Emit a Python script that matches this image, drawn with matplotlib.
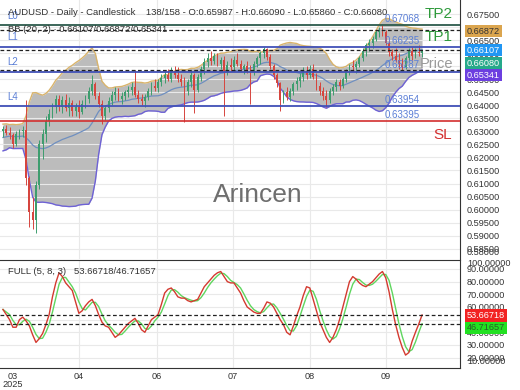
import numpy as np
import pandas as pd
import matplotlib
matplotlib.use("Agg")
import matplotlib.pyplot as plt

plt.rcParams['font.family'] = ['Liberation Sans', 'DejaVu Sans']

# daily AUDUSD bars (one value per candle)
opens = [
    .6300, .6310, .6295, .6285, .6250, .6290, .6300, .6305, .6120, .5990,
    .5960, .6095, .6250, .6290, .6340, .6365, .6395, .6425, .6395, .6420,
    .6390, .6410, .6380, .6395, .6375, .6405, .6425, .6455, .6480, .6435,
    .6405, .6360, .6390, .6415, .6440, .6450, .6425, .6435, .6450, .6460,
    .6470, .6440, .6425, .6415, .6430, .6455, .6475, .6465, .6490, .6505,
    .6515, .6500, .6530, .6515, .6500, .6490, .6455, .6490, .6515, .6460,
    .6510, .6540, .6565, .6580, .6570, .6590, .6560, .6575, .6530, .6555,
    .6545, .6575, .6560, .6540, .6550, .6535, .6530, .6560, .6580, .6600,
    .6615, .6585, .6550, .6515, .6485, .6420, .6450, .6430, .6455, .6480,
    .6495, .6510, .6530, .6515, .6540, .6510, .6475, .6455, .6435, .6420,
    .6455, .6470, .6490, .6475, .6500, .6530, .6550, .6545, .6560, .6580,
    .6610, .6630, .6640, .6655, .6680, .6690, .6680, .6640, .6605, .6590,
    .6575, .6560, .6545, .6580, .6610, .6590, .6605, .65987]
highs = [
    .6320, .6325, .6315, .6295, .6300, .6310, .6320, .6420, .6130, .6050,
    .6110, .6265, .6310, .6360, .6385, .6410, .6440, .6440, .6435, .6445,
    .6430, .6420, .6410, .6420, .6420, .6440, .6470, .6515, .6490, .6450,
    .6420, .6400, .6430, .6455, .6470, .6465, .6450, .6460, .6475, .6490,
    .6535, .6460, .6445, .6445, .6465, .6490, .6500, .6500, .6520, .6530,
    .6540, .6545, .6550, .6545, .6520, .6510, .6500, .6530, .6525, .6520,
    .6550, .6580, .6600, .6610, .6600, .6600, .6585, .6590, .6570, .6580,
    .6590, .6600, .6575, .6560, .6570, .6555, .6570, .6590, .6610, .6625,
    .6620, .6595, .6560, .6525, .6490, .6460, .6470, .6465, .6490, .6510,
    .6525, .6545, .6550, .6555, .6560, .6525, .6490, .6470, .6460, .6465,
    .6480, .6500, .6500, .6510, .6540, .6560, .6575, .6570, .6590, .6620,
    .6640, .6655, .6665, .6690, .6700, .67068, .6690, .6650, .6615, .6620,
    .6600, .6580, .6590, .6620, .6625, .6620, .6630, .66090]
lows = [
    .6280, .6285, .6270, .6235, .6245, .6270, .6280, .6095, .5935, .5925,
    .5910, .6080, .6195, .6260, .6320, .6350, .6370, .6380, .6370, .6380,
    .6360, .6360, .6360, .6350, .6365, .6390, .6410, .6440, .6425, .6395,
    .6330, .6345, .6375, .6400, .6420, .6415, .6405, .6420, .6430, .6440,
    .6430, .6410, .6400, .6395, .6420, .6440, .6455, .6450, .6475, .6485,
    .6495, .6490, .6505, .6490, .6475, .6335, .6440, .6470, .6370, .6450,
    .6495, .6520, .6545, .6555, .6560, .6550, .6540, .6360, .6515, .6530,
    .6535, .6550, .6530, .6520, .6525, .6405, .6515, .6545, .6560, .6580,
    .6575, .6540, .6500, .6470, .6380, .6410, .6420, .6415, .6440, .6460,
    .6470, .6495, .6500, .6505, .6500, .6460, .6440, .6420, .6395, .6410,
    .6440, .6455, .6460, .6465, .6490, .6515, .6530, .6525, .6545, .6570,
    .6590, .6610, .6620, .6645, .6660, .6665, .6630, .6590, .6575, .6565,
    .6540, .6535, .6540, .6570, .6575, .6580, .6590, .65860]
closes = [
    .6310, .6295, .6285, .6250, .6290, .6300, .6305, .6120, .5990, .5960,
    .6095, .6250, .6290, .6340, .6365, .6395, .6425, .6395, .6420, .6390,
    .6410, .6380, .6395, .6375, .6405, .6425, .6455, .6480, .6435, .6405,
    .6360, .6390, .6415, .6440, .6450, .6425, .6435, .6450, .6460, .6470,
    .6440, .6425, .6415, .6430, .6455, .6475, .6465, .6490, .6505, .6515,
    .6500, .6530, .6515, .6500, .6490, .6455, .6490, .6515, .6460, .6510,
    .6540, .6565, .6580, .6570, .6590, .6560, .6575, .6530, .6555, .6545,
    .6575, .6560, .6540, .6550, .6535, .6530, .6560, .6580, .6600, .6615,
    .6585, .6550, .6515, .6485, .6420, .6450, .6430, .6455, .6480, .6495,
    .6510, .6530, .6515, .6540, .6510, .6475, .6455, .6435, .6420, .6455,
    .6470, .6490, .6475, .6500, .6530, .6550, .6545, .6560, .6580, .6610,
    .6630, .6640, .6655, .6680, .6690, .6680, .6640, .6605, .6590, .6575,
    .6560, .6545, .6580, .6610, .6590, .6605, .6599, .66080]
# closes before the first visible candle, estimated from the band width at the left edge
warmup_closes = [.6245, .6230, .6275, .6300, .6290, .6275, .6250, .6240, .6265, .6280,
                 .6310, .6325, .6290, .6260, .6245, .6265, .6280, .6295, .6300]

# full stochastic %K (red line)
stoch_k = [
    58, 54, 50, 44, 44, 50, 52, 49, 45, 38, 32, 35, 39, 46, 54, 68, 79, 87, 84, 79,
    76, 73, 64, 55, 57, 61, 64, 66, 61, 54, 48, 45, 44, 40, 36, 38, 41, 44, 47, 49,
    51, 47, 42, 40, 45, 50, 52, 54, 62, 71, 74, 75, 72, 68, 67, 67, 65, 64, 65, 66,
    71, 76, 79, 82, 85, 87, 88, 84, 80, 79, 79, 75, 71, 65, 60, 58, 56, 55, 55, 59,
    64, 63, 60, 55, 50, 46, 40, 38, 45, 53, 60, 69, 76, 75, 66, 57, 48, 42, 36, 32,
    36, 42, 50, 60, 70, 80, 84, 82, 79, 77, 76, 78, 80, 83, 86, 88, 83, 72, 58, 46,
    36, 28, 22, 24, 33, 40, 46.5, 53.67]

levels = [0.67068, 0.66235, 0.65287, 0.63954]
level_names = ['L0', 'L1', 'L2', 'L4']
stop_loss = 0.63395
bb_now = [0.66107, 0.66872, 0.65341]        # middle / upper / lower
last_close = 0.66080
stoch_now = [53.66718, 46.71657]

month_pos = [3.0, 23.0, 46.6, 69.7, 93.0, 116.1]
month_labels = ['03\n2025', '04', '06', '07', '08', '09']

# Bollinger (20, 2)
cl = pd.Series(warmup_closes + closes)
mid = cl.rolling(20).mean().to_numpy()[len(warmup_closes):]
sd = cl.rolling(20).std(ddof=0).to_numpy()[len(warmup_closes):]
upper = mid + 2 * sd
lower = mid - 2 * sd

stoch_d = pd.Series(stoch_k).rolling(3, min_periods=1).mean()

n = len(closes)
x = np.arange(n)
o = np.array(opens); h = np.array(highs); l = np.array(lows); c = np.array(closes)
up = c >= o

fig = plt.figure(figsize=(5.2, 3.9), dpi=100)
ax = fig.add_axes([0, 1 - 259 / 390, 460 / 520, 259 / 390])
ax2 = fig.add_axes([0, 1 - 368 / 390, 460 / 520, 108 / 390])

# ---- price panel
ax.set_xlim(-0.9, 138.5)
ax.set_ylim(0.58106, 0.68037)
yt = np.arange(0.585, 0.6751, 0.005)
ax.set_yticks(yt)
ax.set_yticklabels([f"{v:.5f}" for v in yt])
ax.yaxis.tick_right()
ax.tick_params(axis='y', length=0, pad=5, labelsize=6.6, colors='#333333')
ax.set_xticks([])
ax.grid(axis='y', color='#e9e9e9', lw=0.8)
for p in month_pos[1:]:
    ax.axvline(p, color='#e9e9e9', lw=0.8, zorder=0)
for s in ['top', 'left', 'bottom']:
    ax.spines[s].set_visible(False)
ax.spines['right'].set_color('#333333')
ax.text(1.015, 0.58374, '0.58000', transform=ax.get_yaxis_transform(),
        fontsize=6.6, color='#333333', va='center')

ax.fill_between(x, lower, upper, color='#bcbcbc', lw=0, zorder=1)
ax.plot(x, upper, color='#d9b46c', lw=1, zorder=2)
ax.plot(x, lower, color='#6e62d6', lw=1, zorder=2)
ax.plot(x, mid, color='#6f8fc0', lw=0.9, zorder=2)

cols = np.where(up, '#3e9d6e', '#d6453e')
ax.vlines(x, l, h, color=cols, lw=0.7, zorder=3)
ax.bar(x, np.maximum(np.abs(c - o), 0.0002), bottom=np.minimum(o, c), width=0.55,
       color=cols, lw=0, zorder=3)

lvl_colors = ['#2c5a4c', '#4151b8', '#4151b8', '#4151b8']
for v, name, col in zip(levels, level_names, lvl_colors):
    ax.axhline(v, color=col, lw=1.3, zorder=4)
    ax.annotate(name, xy=(0, v), xycoords=('axes fraction', 'data'), xytext=(5, 7),
                textcoords='offset points', va='center', fontsize=7, color='#5b7fd6')
    ax.annotate(f"{v:.5f}", xy=(385 / 460, v), xycoords=('axes fraction', 'data'),
                xytext=(0, 4.5), textcoords='offset points', va='center',
                fontsize=7, color='#5b7fd6', zorder=6)
ax.axhline(stop_loss, color='#d32f2f', lw=1.2, zorder=4)
ax.annotate(f"{stop_loss:.5f}", xy=(385 / 460, stop_loss), xycoords=('axes fraction', 'data'),
            xytext=(0, 4.5), textcoords='offset points', va='center',
            fontsize=7, color='#5b7fd6')
for v in bb_now:
    ax.axhline(v, color='#222222', lw=0.9, ls=(0, (3, 2)), zorder=5)

ax.text(0.954, 0.946, 'TP2', transform=ax.transAxes, fontsize=11, color='#2e9a3b',
        ha='center', va='center')
ax.text(0.954, 0.857, 'TP1', transform=ax.transAxes, fontsize=11, color='#2e9a3b',
        ha='center', va='center')
ax.text(0.948, 0.753, 'Price', transform=ax.transAxes, fontsize=10.5, color='#9a9a9a',
        ha='center', va='center')
ax.text(0.963, 0.479, 'SL', transform=ax.transAxes, fontsize=11, color='#d32f2f',
        ha='center', va='center')
ax.text(0.561, 0.247, 'Arincen', transform=ax.transAxes, fontsize=19, color='#6e6e6e',
        ha='center', va='center')

# price boxes on the right scale
boxes = [(f"{bb_now[1]:.5f}", 0.66846, '#dba54e', '#333333'),
         (f"{bb_now[0]:.5f}", 0.66115, '#2196f3', 'white'),
         (f"{last_close:.5f}", 0.65615, '#26a98a', 'white'),
         (f"{bb_now[2]:.5f}", 0.65154, '#6c3fe0', 'white')]
for txt, yv, fc, tc in boxes:
    ax.text(1.015, yv, txt, transform=ax.get_yaxis_transform(), fontsize=6.6, color=tc,
            va='center', ha='left', zorder=10,
            bbox=dict(boxstyle='square,pad=0.18', fc=fc, ec='none'))

# ---- stochastic panel
ax2.set_xlim(-0.9, 138.5)
ax2.set_ylim(11.8, 97.1)
st = np.arange(20, 91, 10)
ax2.set_yticks(st)
ax2.set_yticklabels([f"{v:.5f}" for v in st])
ax2.yaxis.tick_right()
ax2.tick_params(axis='y', length=0, pad=5, labelsize=6.6, colors='#333333')
ax2.set_xticks(month_pos)
ax2.set_xticklabels(month_labels, linespacing=0.85)
ax2.tick_params(axis='x', length=0, pad=3, labelsize=6.6, colors='#333333')
ax2.grid(axis='y', color='#e9e9e9', lw=0.8)
for p in month_pos[1:]:
    ax2.axvline(p, color='#e9e9e9', lw=0.8, zorder=0)
ax2.spines['left'].set_visible(False)
for s in ['top', 'right', 'bottom']:
    ax2.spines[s].set_color('#333333')
ax2.text(1.015, 94.0, '100.00000', transform=ax2.get_yaxis_transform(),
         fontsize=6.6, color='#333333', va='center')
ax2.text(1.015, 17.0, '10.00000', transform=ax2.get_yaxis_transform(),
         fontsize=6.6, color='#333333', va='center')

ax2.plot(x, stoch_d, color='#5fd65f', lw=1)
ax2.plot(x, stoch_k, color='#d43a30', lw=1)
for v in stoch_now:
    ax2.axhline(v, color='#222222', lw=0.9, ls=(0, (3, 2)))
ax2.text(1.015, 53.2, f"{stoch_now[0]:.5f}", transform=ax2.get_yaxis_transform(),
         fontsize=6.6, color='white', va='center', zorder=10,
         bbox=dict(boxstyle='square,pad=0.18', fc='#f22222', ec='none'))
ax2.text(1.015, 43.4, f"{stoch_now[1]:.5f}", transform=ax2.get_yaxis_transform(),
         fontsize=6.6, color='#2b5b2b', va='center', zorder=10,
         bbox=dict(boxstyle='square,pad=0.18', fc='#22e022', ec='none'))

# headers
fig.text(8 / 520, 1 - 12.7 / 390,
         "AUDUSD - Daily - Candlestick    138/158 - O:0.65987 - H:0.66090 - L:0.65860 - C:0.66080",
         fontsize=6.8, color='#333333', va='center')
fig.text(8 / 520, 1 - 29 / 390,
         f"BB (20, 2) \u00b7 {bb_now[0]:.5f}/{bb_now[1]:.5f}/{bb_now[2]:.5f}",
         fontsize=6.8, color='#333333', va='center')
fig.text(8 / 520, 1 - 272 / 390,
         f"FULL (5, 8, 3)   {stoch_now[0]:.5f}/{stoch_now[1]:.5f}",
         fontsize=6.8, color='#333333', va='center')

fig.savefig('out.png', dpi=100)
